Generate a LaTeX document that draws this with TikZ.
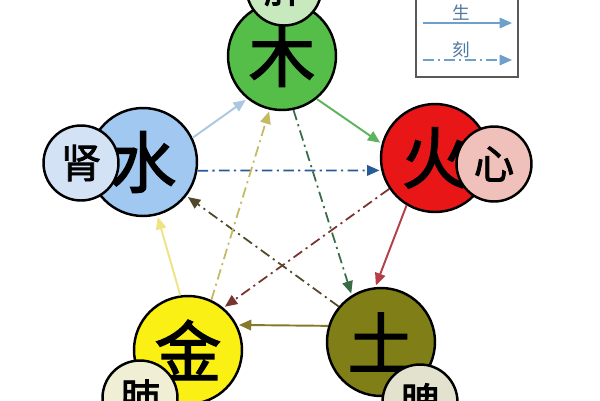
\documentclass[tikz,border=0pt]{standalone}
\usepackage{fontspec}
\newfontfamily\cjk[FakeBold=2]{Noto Sans CJK SC}
\newfontfamily\cjkl{Noto Sans CJK SC}
\usetikzlibrary{arrows.meta}
\definecolor{woodc}{RGB}{84,190,72}
\definecolor{liverc}{RGB}{200,232,190}
\definecolor{firec}{RGB}{232,22,22}
\definecolor{heartc}{RGB}{240,192,186}
\definecolor{waterc}{RGB}{160,200,240}
\definecolor{kidneyc}{RGB}{212,226,246}
\definecolor{metalc}{RGB}{250,240,20}
\definecolor{lungc}{RGB}{240,238,212}
\definecolor{earthc}{RGB}{128,126,22}
\definecolor{spleenc}{RGB}{226,226,206}
\definecolor{c1}{RGB}{172,200,222}
\definecolor{c2}{RGB}{92,180,92}
\definecolor{c3}{RGB}{182,62,72}
\definecolor{c4}{RGB}{132,122,42}
\definecolor{c5}{RGB}{238,228,132}
\definecolor{k1}{RGB}{40,90,150}
\definecolor{k2}{RGB}{56,108,70}
\definecolor{k3}{RGB}{120,52,46}
\definecolor{k4}{RGB}{82,72,42}
\definecolor{k5}{RGB}{196,186,100}
\definecolor{legc}{RGB}{80,120,160}
\definecolor{legl}{RGB}{110,160,205}
\tikzset{
  big/.style={circle,draw=black,line width=1.4pt,inner sep=0pt,minimum size=2.16cm,font=\cjk\fontsize{38}{38}\selectfont},
  small/.style={circle,draw=black,line width=1.4pt,inner sep=0pt,minimum size=1.5cm,font=\cjk\fontsize{23}{23}\selectfont},
  sheng/.style={line width=1.1pt,-{Triangle[length=7pt,width=6pt]},shorten >=1pt},
  ke/.style={line width=1pt,dash pattern=on 6pt off 2.5pt on 1.2pt off 2.5pt,-{Triangle[length=7pt,width=6pt]},shorten >=1pt},
}
\begin{document}
\begin{tikzpicture}[x=0.02cm,y=-0.02cm]
\useasboundingbox (0,0) rectangle (600,400);
\fill[white] (0,0) rectangle (600,400);
% legend
\node[draw=gray!70!black,line width=0.6pt,minimum width=2.04cm,minimum height=1.8cm,inner sep=0pt] (legend) at (467,32) {};
\node[font=\cjkl\fontsize{10}{10}\selectfont,text=legc] (sheng) at (461,13) {生};
\node[font=\cjkl\fontsize{10}{10}\selectfont,text=legc] (ke) at (461,50) {刻};
\coordinate (s1) at (423,23); \coordinate (s2) at (512,23);
\coordinate (k1a) at (423,60); \coordinate (k2a) at (512,60);
\draw[legl,line width=0.8pt,-{Triangle[length=7pt,width=6pt]}] (s1) -- (s2);
\draw[legl,line width=0.8pt,dash pattern=on 6pt off 2.5pt on 1pt off 2.5pt,-{Triangle[length=7pt,width=6pt]}] (k1a) -- (k2a);
% elements
\node[big,fill=woodc] (wood) at (282,56) {木};
\node[small,fill=liverc] (liver) at (284,-12) {肝};
\node[big,fill=firec] (fire) at (435,158) {火};
\node[small,fill=heartc] (heart) at (494,164) {心};
\node[big,fill=waterc] (water) at (143,162) {水};
\node[small,fill=kidneyc] (kidney) at (81,163) {肾};
\node[big,fill=metalc] (metal) at (188,350) {金};
\node[small,fill=lungc] (lung) at (140,398) {肺};
\node[big,fill=earthc] (earth) at (381,342) {土};
\node[small,fill=spleenc] (spleen) at (420,402) {脾};
% sheng cycle
\draw[sheng,c1] (water.26) -- (wood.231);
\draw[sheng,c2] (wood.309) -- (fire.165);
\draw[sheng,c3] (fire.239) -- (earth.96);
\draw[sheng,c4] (earth.163) -- (metal.27);
\draw[sheng,c5] (metal.98) -- (water.285);
% ke cycle
\draw[ke,k1] (water.351) -- (fire.193);
\draw[ke,k2] (wood.282) -- (earth.122);
\draw[ke,k3] (fire.214) -- (metal.50);
\draw[ke,k4] (earth.140) -- (water.322);
\draw[ke,k5] (metal.65) -- (wood.257);
\end{tikzpicture}
\end{document}
